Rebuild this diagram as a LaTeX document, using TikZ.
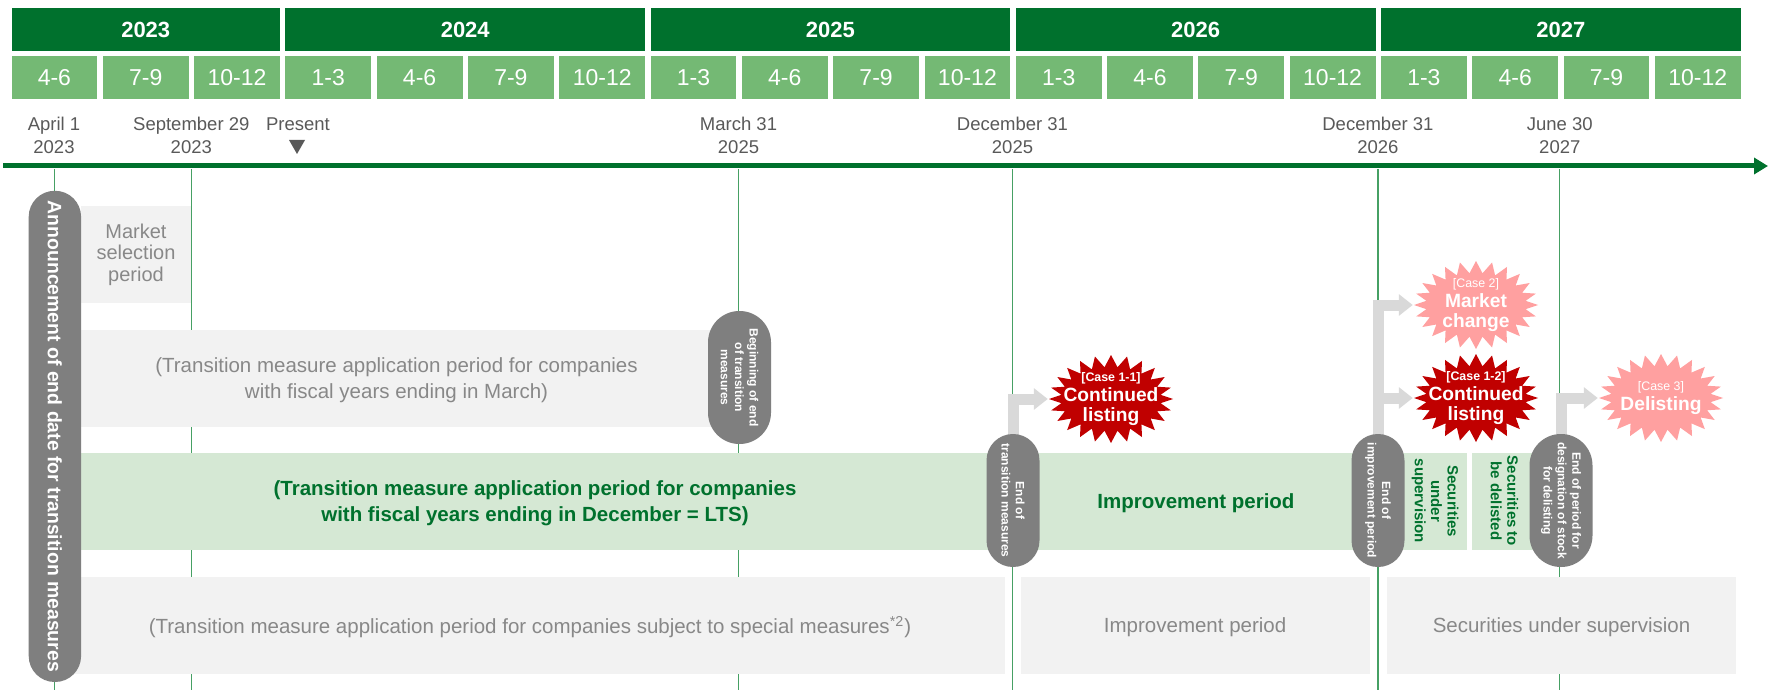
\documentclass[tikz,border=0pt]{standalone}
\usepackage{fontspec}
\setmainfont{Liberation Sans}
\usetikzlibrary{
	shapes.symbols,
	arrows.meta}

\definecolor{hdrgreen}{RGB}{0,113,45}
\definecolor{qgreen}{RGB}{116,185,116}
\definecolor{linegreen}{RGB}{70,160,100}
\definecolor{ltsgreen}{RGB}{213,232,212}
\definecolor{boxgray}{RGB}{242,242,242}
\definecolor{textgray}{RGB}{136,136,136}
\definecolor{dategray}{RGB}{89,89,89}
\definecolor{pillgray}{RGB}{127,127,127}
\definecolor{flowgray}{RGB}{217,217,217}
\definecolor{darkred}{RGB}{192,0,0}
\definecolor{pinkred}{RGB}{255,160,160}

\newcommand{\casetag}[1]{{\fontsize{6.2}{9}\selectfont[#1]}}

\begin{document}
\begin{tikzpicture}[x=0.5pt,y=-0.5pt,every text node part/.style={align=center},
    yearbar/.style={fill=hdrgreen,text=white,font=\bfseries\fontsize{11}{13}\selectfont,
      minimum height=21.5pt,inner sep=0pt},
    quarter/.style={fill=qgreen,text=white,font=\fontsize{11.5}{13}\selectfont,
      minimum width=42.9pt,minimum height=21.5pt,inner sep=0pt},
    datelabel/.style={text=dategray,font=\fontsize{9.25}{11.5}\selectfont,inner sep=0pt},
    gridline/.style={draw=linegreen,line width=0.6pt},
    grayrow/.style={fill=boxgray,text=textgray,font=\fontsize{10.25}{13}\selectfont,
      minimum height=48.5pt,inner sep=0pt,text depth=0.5pt},
    greenrow/.style={fill=ltsgreen,text=hdrgreen,font=\bfseries\fontsize{10.25}{12.75}\selectfont,
      minimum height=48.5pt,inner sep=0pt,text depth=0pt},
    pill/.style={rectangle,fill=pillgray,text=white,rotate=-90,inner sep=0pt,
      font=\bfseries\fontsize{6}{7.2}\selectfont},
    burst/.style={starburst,starburst points=24,starburst point height=6pt,
      random starburst=0,inner sep=0pt,minimum width=62pt,minimum height=44pt},
    bursttext/.style={text=white,inner sep=0pt,font=\bfseries\fontsize{9.6}{10}\selectfont},
    flow/.style={draw=flowgray,line width=5.5pt,-{Triangle[length=7pt,width=10.5pt]}}]

  \useasboundingbox[fill=white] (0,0) rectangle (1768,690);

  % date lines and time axis
  \draw[gridline] (54.3,169)   -- (54.3,690);
  \draw[gridline] (191.3,169)  -- (191.3,690);
  \draw[gridline] (738.5,169)  -- (738.5,690);
  \draw[gridline] (1012.5,169) -- (1012.5,690);
  \draw[gridline] (1377.9,169) -- (1377.9,690);
  \draw[gridline] (1559.8,169) -- (1559.8,690);
  \draw[hdrgreen,line width=2.5pt,-{Triangle[length=7pt,width=8pt]}] (3,166) -- (1768,166);

  % years
  \node[yearbar,minimum width=134.25pt] (Y23) at (145.75,29.5) {2023};
  \node[yearbar,minimum width=179.85pt] (Y24) at (465.25,29.5) {2024};
  \node[yearbar,minimum width=179.85pt] (Y25) at (830.45,29.5) {2025};
  \node[yearbar,minimum width=179.85pt] (Y26) at (1195.65,29.5) {2026};
  \node[yearbar,minimum width=179.85pt] (Y27) at (1560.85,29.5) {2027};

  % quarters
  \node[quarter] (Q0)  at (54.4,77.5)   {4-6};
  \node[quarter] (Q1)  at (145.7,77.5)  {7-9};
  \node[quarter] (Q2)  at (237.0,77.5)  {10-12};
  \node[quarter] (Q3)  at (328.3,77.5)  {1-3};
  \node[quarter] (Q4)  at (419.6,77.5)  {4-6};
  \node[quarter] (Q5)  at (510.9,77.5)  {7-9};
  \node[quarter] (Q6)  at (602.2,77.5)  {10-12};
  \node[quarter] (Q7)  at (693.5,77.5)  {1-3};
  \node[quarter] (Q8)  at (784.8,77.5)  {4-6};
  \node[quarter] (Q9)  at (876.1,77.5)  {7-9};
  \node[quarter] (Q10) at (967.4,77.5)  {10-12};
  \node[quarter] (Q11) at (1058.7,77.5) {1-3};
  \node[quarter] (Q12) at (1150.0,77.5) {4-6};
  \node[quarter] (Q13) at (1241.3,77.5) {7-9};
  \node[quarter] (Q14) at (1332.6,77.5) {10-12};
  \node[quarter] (Q15) at (1423.9,77.5) {1-3};
  \node[quarter] (Q16) at (1515.2,77.5) {4-6};
  \node[quarter] (Q17) at (1606.5,77.5) {7-9};
  \node[quarter] (Q18) at (1697.8,77.5) {10-12};

  % dates
  \node[datelabel] (D1) at (54,135.5)     {April 1\\2023};
  \node[datelabel] (D2) at (191.3,135.5)  {September 29\\2023};
  \node[datelabel] (D3) at (298,124)      {Present};
  \node[datelabel] (D4) at (738.5,135.5)  {March 31\\2025};
  \node[datelabel] (D5) at (1012.5,135.5) {December 31\\2025};
  \node[datelabel] (D6) at (1377.9,135.5) {December 31\\2026};
  \node[datelabel] (D7) at (1559.8,135.5) {June 30\\2027};
  \fill[dategray] (289,140) -- (305,140) -- (297,154) -- cycle;

  % periods
  \node[grayrow,minimum width=55pt,font=\fontsize{10}{10.75}\selectfont,text depth=2pt] (MS) at (136,254.5)
    {Market\\selection\\period};
  \node[grayrow,minimum width=315.5pt] (FYM) at (396.5,378.5)
    {(Transition measure application period for companies\\with fiscal years ending in March)};
  \node[greenrow,minimum width=454pt] (LTS) at (535,501)
    {(Transition measure application period for companies\\with fiscal years ending in December = LTS)};
  \node[greenrow,minimum width=159pt] (IMP) at (1196,501) {Improvement period};
  \node[greenrow,rotate=-90,minimum width=48.5pt,minimum height=31.85pt,text depth=1.6pt,
    font=\bfseries\fontsize{7.5}{8.2}\selectfont] (SUP) at (1435,501) {Securities\\under\\supervision};
  \node[greenrow,rotate=-90,minimum width=48.5pt,minimum height=31pt,text depth=1.6pt,
    font=\bfseries\fontsize{7.5}{8.2}\selectfont] (DEL) at (1503,501) {Securities to\\be delisted};
  \node[grayrow,minimum width=475pt] (SM) at (530,625.5)
    {(Transition measure application period for companies subject to special measures\textsuperscript{*2})};
  \node[grayrow,minimum width=174.4pt] (SMI) at (1195.1,625.5) {Improvement period};
  \node[grayrow,minimum width=174.5pt] (SMS) at (1561.5,625.5) {Securities under supervision};

  % outcomes
  \node[burst,fill=darkred] (C11) at (1111,399) {};
  \node[burst,fill=pinkred] (C2)  at (1476,305) {};
  \node[burst,fill=darkred] (C12) at (1476,398) {};
  \node[burst,fill=pinkred] (C3)  at (1661,398) {};
  \node[bursttext] (C11t) at (C11) {\casetag{Case 1-1}\\Continued\\listing};
  \node[bursttext] (C2t)  at (C2)  {{\mdseries\casetag{Case 2}}\\Market\\change};
  \node[bursttext] (C12t) at (C12) {\casetag{Case 1-2}\\Continued\\listing};
  \node[bursttext] (C3t)  at (C3)  {{\mdseries\casetag{Case 3}}\\Delisting};

  \coordinate (ETr) at (1013,446);
  \coordinate (EIr) at (1378,446);
  \coordinate (EPr) at (1561,446);
  \draw[flow] (ETr) |- (C11.west);
  \draw[flow] (EIr) |- (C2.west);
  \draw[flow] (EIr) |- (C12.west);
  \draw[flow] (EPr) |- (C3.west);

  % milestones
  \node[pill,minimum width=245.6pt,minimum height=26.2pt,rounded corners=13pt,
    font=\bfseries\fontsize{9.7}{11}\selectfont] (ANN) at (54.9,436.4)
    {Announcement of end date for transition measures};
  \node[pill,minimum width=66.5pt,minimum height=31.5pt,rounded corners=15.7pt] (BEG) at (739.5,377.5)
    {Beginning of end\\of transition\\measures};
  \node[pill,minimum width=66.5pt,minimum height=26.5pt,rounded corners=13.2pt] (ET) at (1013,500.5)
    {End of\\transition measures};
  \node[pill,minimum width=66.5pt,minimum height=26.5pt,rounded corners=13.2pt] (EI) at (1378,500.5)
    {End of\\improvement period};
  \node[pill,minimum width=66.5pt,minimum height=31.5pt,rounded corners=15.7pt] (EP) at (1561,500.5)
    {End of period for\\designation of stock\\for delisting};

\end{tikzpicture}
\end{document}
